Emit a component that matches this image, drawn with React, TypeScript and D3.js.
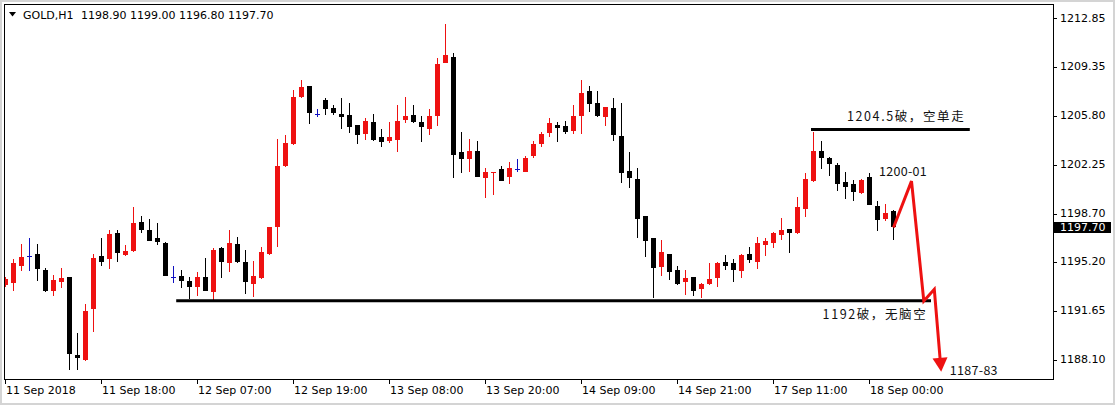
import React from "react";
import * as d3 from "d3";

// ---- OHLC data (GOLD, H1), one entry per bar ----
const openPrices = [
  1193.53, 1193.65, 1194.91, 1195.65, 1195.75, 1194.62, 1193.09, 1193.77, 1194.13, 1188.43,
  1188.09, 1191.77, 1195.63, 1195.39, 1197.32, 1195.70, 1196.01, 1198.09, 1197.51, 1196.91,
  1196.55, 1194.13, 1194.20, 1193.82, 1193.41, 1194.09, 1193.04, 1196.19, 1195.14, 1196.48,
  1195.17, 1193.60, 1194.01, 1195.75, 1197.75, 1202.15, 1203.72, 1207.13, 1207.95, 1205.90,
  1206.94, 1206.38, 1205.92, 1205.85, 1205.12, 1204.47, 1205.32, 1204.27, 1203.98, 1204.04,
  1205.48, 1205.85, 1205.32, 1204.83, 1205.77, 1209.64, 1210.03, 1203.14, 1202.66, 1203.24,
  1201.30, 1201.67, 1201.91, 1201.38, 1201.91, 1201.74, 1202.90, 1203.75, 1204.52, 1205.12,
  1205.05, 1204.71, 1205.77, 1207.59, 1206.70, 1205.72, 1206.33, 1204.33, 1201.79, 1201.19,
  1198.53, 1196.91, 1194.85, 1195.75, 1194.62, 1193.77, 1194.13, 1193.24, 1193.60, 1194.06,
  1195.17, 1195.10, 1194.56, 1195.75, 1195.22, 1196.43, 1196.55, 1197.15, 1197.56, 1197.27,
  1199.04, 1201.06, 1203.26, 1202.75, 1202.22, 1200.97, 1200.85, 1200.17, 1201.33, 1199.27,
  1198.29, 1198.90,
];
const highPrices = [
  1194.13, 1195.39, 1196.48, 1196.91, 1196.48, 1194.74, 1194.25, 1194.78, 1194.13, 1190.07,
  1192.13, 1195.77, 1196.91, 1197.51, 1197.51, 1196.43, 1199.20, 1198.53, 1198.29, 1198.04,
  1196.67, 1194.91, 1194.62, 1194.13, 1194.45, 1195.46, 1196.19, 1196.26, 1197.51, 1196.98,
  1196.06, 1195.27, 1196.26, 1197.75, 1204.09, 1204.40, 1207.66, 1208.39, 1207.95, 1206.26,
  1207.06, 1206.57, 1207.06, 1206.70, 1205.12, 1205.61, 1205.92, 1204.83, 1205.36, 1206.57,
  1207.13, 1206.57, 1205.77, 1206.28, 1209.96, 1212.44, 1210.32, 1204.59, 1204.11, 1203.96,
  1201.98, 1201.74, 1202.15, 1202.46, 1202.66, 1202.90, 1203.96, 1204.59, 1205.61, 1205.36,
  1205.41, 1206.57, 1208.39, 1207.97, 1207.59, 1206.45, 1207.06, 1206.70, 1203.14, 1201.98,
  1198.53, 1196.91, 1196.79, 1195.75, 1194.91, 1194.62, 1194.13, 1193.65, 1195.10, 1195.22,
  1195.70, 1195.39, 1195.75, 1196.26, 1197.03, 1196.95, 1197.39, 1198.36, 1197.56, 1199.88,
  1201.67, 1204.59, 1203.96, 1202.83, 1202.39, 1201.74, 1201.14, 1201.19, 1201.67, 1199.64,
  1199.38, 1199.00,
];
const lowPrices = [
  1193.41, 1193.09, 1194.56, 1194.56, 1193.84, 1193.04, 1192.75, 1193.33, 1187.37, 1187.37,
  1188.04, 1190.14, 1194.91, 1194.67, 1195.22, 1195.65, 1195.94, 1197.32, 1196.74, 1196.43,
  1194.20, 1193.65, 1193.29, 1192.49, 1192.75, 1193.09, 1192.44, 1194.06, 1194.45, 1195.10,
  1192.88, 1192.64, 1193.94, 1195.70, 1196.26, 1202.10, 1203.67, 1207.06, 1205.19, 1205.72,
  1205.85, 1205.85, 1204.83, 1204.56, 1203.75, 1204.04, 1203.98, 1203.55, 1203.80, 1203.19,
  1205.25, 1205.29, 1203.91, 1204.40, 1205.05, 1209.64, 1201.30, 1201.67, 1201.74, 1201.33,
  1199.85, 1200.05, 1201.09, 1200.85, 1201.74, 1201.74, 1202.71, 1203.51, 1204.27, 1203.91,
  1204.47, 1204.45, 1204.45, 1206.09, 1205.72, 1205.07, 1203.98, 1200.94, 1200.58, 1196.95,
  1195.58, 1192.61, 1194.20, 1193.89, 1193.53, 1192.80, 1192.75, 1192.56, 1193.53, 1193.41,
  1194.62, 1193.77, 1194.06, 1195.10, 1194.67, 1195.63, 1196.19, 1196.79, 1195.87, 1197.22,
  1198.48, 1201.01, 1201.91, 1201.45, 1200.34, 1199.76, 1199.64, 1200.10, 1199.33, 1197.46,
  1198.17, 1196.80,
];
const closePrices = [
  1193.94, 1195.10, 1195.58, 1195.65, 1194.67, 1193.09, 1193.89, 1194.01, 1188.51, 1188.22,
  1191.64, 1195.51, 1195.22, 1197.22, 1195.87, 1195.99, 1198.00, 1197.51, 1196.74, 1196.67,
  1194.20, 1194.13, 1193.84, 1193.36, 1194.13, 1193.09, 1196.06, 1195.22, 1196.55, 1195.22,
  1193.77, 1194.18, 1195.94, 1197.71, 1202.15, 1203.80, 1207.13, 1207.86, 1206.01, 1205.90,
  1206.26, 1206.01, 1205.72, 1205.00, 1204.40, 1205.41, 1204.04, 1203.91, 1204.27, 1205.41,
  1205.77, 1205.36, 1205.00, 1205.77, 1209.55, 1210.20, 1202.95, 1202.64, 1203.26, 1201.33,
  1201.74, 1201.74, 1201.09, 1201.98, 1201.91, 1202.71, 1203.75, 1204.47, 1205.25, 1204.88,
  1204.59, 1205.77, 1207.42, 1206.62, 1205.77, 1206.41, 1204.40, 1201.67, 1201.30, 1198.31,
  1196.74, 1194.74, 1195.90, 1194.45, 1193.60, 1194.01, 1193.12, 1193.60, 1193.96, 1195.10,
  1194.91, 1194.62, 1195.70, 1195.34, 1196.55, 1196.72, 1197.27, 1197.51, 1197.32, 1199.16,
  1201.19, 1203.24, 1202.75, 1202.27, 1200.85, 1200.65, 1200.29, 1201.14, 1199.33, 1198.24,
  1198.72, 1197.70,
];

// ---- axes ----
const priceTicks = [1212.85, 1209.35, 1205.8, 1202.25, 1198.7, 1195.2, 1191.65, 1188.1];
const timeTickIndex = [0, 12, 24, 36, 48, 60, 72, 84, 96, 108];
const timeTickLabels = [
  "11 Sep 2018", "11 Sep 18:00", "12 Sep 07:00", "12 Sep 19:00", "13 Sep 08:00",
  "13 Sep 20:00", "14 Sep 09:00", "14 Sep 21:00", "17 Sep 11:00", "18 Sep 00:00",
];
const headerSymbol = "GOLD,H1";
const headerValues = "1198.90 1199.00 1196.80 1197.70";
const lastPrice = 1197.7;

// ---- annotations ----
const levelPrices = [1204.8, 1192.4];
const levelStart = [100.75, 21.4];
const levelEnd = [120.6, 115.75];
const arrowIdx = [111, 113.25, 114.79, 116.1, 116.96];
const arrowPrice = [1197.7, 1201.06, 1192.37, 1193.22, 1187.25];
const noteTexts = ["1204.5破，空单走", "1200-01", "1192破，无脑空", "1187-83"];
const noteIdx = [105.25, 109.25, 102.2, 118.1];
const notePrice = [1205.78, 1201.8, 1191.5, 1187.4];

const W = 1115;
const H = 405;
const plotL = 5, plotR = 1054, plotT = 5, plotB = 380;

const x = d3.scaleLinear().domain([0, 131]).range([5, 5 + 8 * 131]);
const y = d3.scaleLinear().domain([1186.65, 1213.82]).range([plotB, plotT]);

const RED = "#ee1111";
const BLUE = "#1010c0";
const AX_FONT = "DejaVu Sans";
const CJK_FONT = "'Noto Sans CJK SC', 'Noto Sans'";

export default function App() {
  const candles = openPrices.map((o, i) => ({
    i, o, h: highPrices[i], l: lowPrices[i], c: closePrices[i],
  }));

  // arrow geometry
  const pts = arrowIdx.map((v, k) => [x(v) + 0.5, y(arrowPrice[k])] as [number, number]);
  const tip = pts[pts.length - 1];
  const prev = pts[pts.length - 2];
  const dx = tip[0] - prev[0], dy = tip[1] - prev[1];
  const len = Math.hypot(dx, dy);
  const ux = dx / len, uy = dy / len;
  const headLen = 14, headHalf = 7.5;
  const base: [number, number] = [tip[0] - ux * headLen, tip[1] - uy * headLen];
  const shaft = [...pts.slice(0, -1), [base[0] + ux * 1, base[1] + uy * 1] as [number, number]];
  const lineGen = d3.line();
  const head = [
    [base[0] - uy * headHalf, base[1] + ux * headHalf],
    [base[0] + uy * headHalf, base[1] - ux * headHalf],
    tip,
  ];

  return (
    <svg
      width={W}
      height={H}
      style={{ position: "absolute", left: 0, top: 0, display: "block", background: "#fff" }}
    >
      <rect x={0} y={0} width={W} height={H} fill="#fff" />
      <rect x={1} y={1} width={W - 2} height={H - 2} fill="none" stroke="#d4d4d4" strokeWidth={2} />
      <defs>
        <clipPath id="plotClip">
          <rect x={plotL} y={plotT} width={plotR - plotL} height={plotB - plotT} />
        </clipPath>
      </defs>

      {/* candles */}
      <g clipPath="url(#plotClip)" shapeRendering="crispEdges">
        {candles.map((d) => {
          const cx = x(d.i);
          const doji = d.o === d.c;
          const bull = d.c > d.o;
          const col = doji ? BLUE : bull ? RED : "#000";
          const top = Math.round(y(Math.max(d.o, d.c)));
          const bot = Math.round(y(Math.min(d.o, d.c)));
          return (
            <g key={d.i}>
              <line
                x1={cx + 0.5}
                x2={cx + 0.5}
                y1={Math.round(y(d.h))}
                y2={Math.round(y(d.l))}
                stroke={col}
                strokeWidth={1}
              />
              {doji ? (
                <line x1={cx - 2} x2={cx + 3} y1={top + 0.5} y2={top + 0.5} stroke={col} strokeWidth={1} />
              ) : (
                <rect x={cx - 2} y={top} width={5} height={Math.max(1, bot - top)} fill={col} />
              )}
            </g>
          );
        })}
      </g>

      {/* level lines */}
      {levelPrices.map((p, k) => (
        <line
          key={"lv" + k}
          x1={x(levelStart[k])}
          x2={x(levelEnd[k])}
          y1={y(p)}
          y2={y(p)}
          stroke="#000"
          strokeWidth={3}
        />
      ))}

      {/* red projection arrow */}
      <path
        d={lineGen(shaft) || ""}
        fill="none"
        stroke={RED}
        strokeWidth={3}
        strokeLinejoin="miter"
      />
      <polygon points={head.map((p) => p.join(",")).join(" ")} fill={RED} />

      {/* notes */}
      {noteTexts.map((t, k) => (
        <text
          key={"nt" + k}
          x={x(noteIdx[k])}
          y={y(notePrice[k])}
          dominantBaseline="central"
          fontFamily={CJK_FONT}
          fontSize={12.5}
          letterSpacing={k === 1 || k === 3 ? 0.3 : 1.6}
          fill="#111"
        >
          {t}
        </text>
      ))}

      {/* frame */}
      <rect
        x={plotL - 0.5}
        y={plotT - 0.5}
        width={plotR - plotL}
        height={plotB - plotT - 0.5}
        fill="none"
        stroke="#000"
        strokeWidth={1}
        shapeRendering="crispEdges"
      />

      {/* price axis */}
      <g fontFamily={AX_FONT} fontSize={11} fill="#000">
        {priceTicks.map((p) => (
          <g key={p}>
            <line
              x1={plotR - 0.5}
              x2={plotR + 3}
              y1={Math.round(y(p)) + 0.5}
              y2={Math.round(y(p)) + 0.5}
              stroke="#000"
              shapeRendering="crispEdges"
            />
            <text x={plotR + 6} y={y(p)} dominantBaseline="central">
              {p.toFixed(2)}
            </text>
          </g>
        ))}
        <rect
          x={plotR}
          y={Math.round(y(lastPrice)) - 5}
          width={57}
          height={11}
          fill="#000"
        />
        <text x={plotR + 6} y={y(lastPrice) + 0.5} dominantBaseline="central" fill="#fff">
          {lastPrice.toFixed(2)}
        </text>
      </g>

      {/* time axis */}
      <g fontFamily={AX_FONT} fontSize={11} fill="#000">
        {timeTickIndex.map((ti, k) => (
          <g key={ti}>
            <line
              x1={x(ti) + 0.5}
              x2={x(ti) + 0.5}
              y1={plotB - 1}
              y2={plotB + 4}
              stroke="#000"
              shapeRendering="crispEdges"
            />
            <text x={x(ti) + 1} y={390} dominantBaseline="central">
              {timeTickLabels[k]}
            </text>
          </g>
        ))}
      </g>

      {/* header */}
      <polygon points="9,12 16,12 12.5,16.5" fill="#000" />
      <g fontFamily={AX_FONT} fontSize={11} fill="#000">
        <text x={23} y={15} dominantBaseline="central">{headerSymbol}</text>
        <text x={81} y={15} dominantBaseline="central">{headerValues}</text>
      </g>
    </svg>
  );
}
